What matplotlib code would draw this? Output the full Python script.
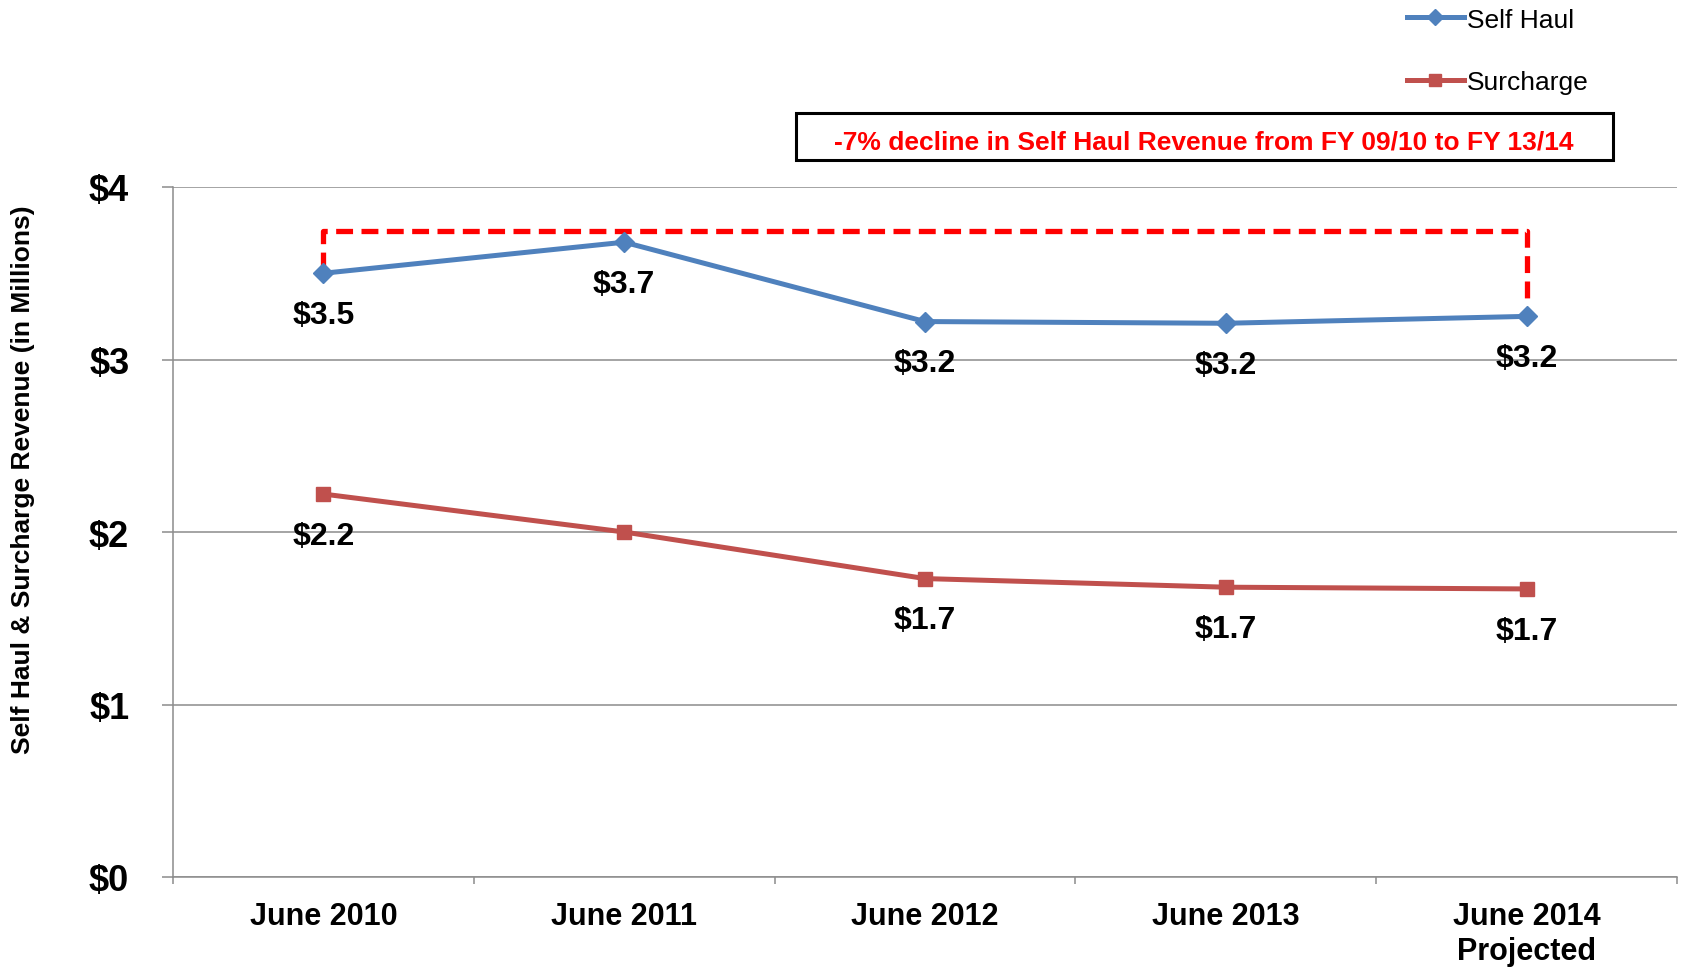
import matplotlib
matplotlib.use("Agg")
import matplotlib.pyplot as plt
from matplotlib.patches import Rectangle

plt.rcParams['font.family'] = ['Liberation Sans', 'DejaVu Sans']

categories = ["June 2010", "June 2011", "June 2012", "June 2013", "June 2014\nProjected"]
self_haul = [3.50, 3.68, 3.22, 3.21, 3.25]
surcharge = [2.22, 2.00, 1.73, 1.68, 1.67]
self_haul_labels = ["$3.5", "$3.7", "$3.2", "$3.2", "$3.2"]
surcharge_labels = ["$2.2", "", "$1.7", "$1.7", "$1.7"]
yticks = [0, 1, 2, 3, 4]
ytick_labels = ["$0", "$1", "$2", "$3", "$4"]
bracket_x = [0, 0, 4, 4]
bracket_y = [3.525, 3.745, 3.745, 3.345]
note = "-7% decline in Self Haul Revenue from FY 09/10 to FY 13/14"
ylabel = "Self Haul & Surcharge Revenue (in Millions)"

BLUE = "#4F81BD"
RED = "#C0504D"
GRID = "#8C8C8C"

W, H = 1684, 970
fig = plt.figure(figsize=(W / 100, H / 100), dpi=100)
ax = fig.add_axes([173 / W, 1 - 878 / H, 1504 / W, 690 / H])

x = list(range(len(categories)))
ax.set_xlim(-0.5, len(categories) - 0.5)
ax.set_ylim(0, 4)

ax.set_yticks(yticks)
ax.set_yticklabels(ytick_labels, fontsize=26, fontweight='bold')
ax.yaxis.grid(True, color=GRID, linewidth=1.1)
ax.set_axisbelow(True)
ax.tick_params(axis='y', length=8, width=1.1, color=GRID, pad=23.5)

ax.set_xticks(x)
ax.set_xticklabels(categories, fontsize=22, fontweight='bold', va='top', linespacing=1.25)
ax.set_xticks([i - 0.5 for i in range(len(categories) + 1)], minor=True)
ax.tick_params(axis='x', which='major', length=0, pad=17)
ax.tick_params(axis='x', which='minor', length=5, width=1.1, color=GRID)

for s in ['top', 'right']:
    ax.spines[s].set_visible(False)
for s in ['left', 'bottom']:
    ax.spines[s].set_color(GRID)
    ax.spines[s].set_linewidth(1.1)

# bracket
ax.plot(bracket_x, bracket_y, color='#FF0000', linewidth=3.8, linestyle=(0, (3.2, 1.6)),
        zorder=2, solid_joinstyle='miter')

l1, = ax.plot(x, self_haul, color=BLUE, linewidth=3.6, marker='D', markersize=10,
              label="Self Haul", zorder=3)
l2, = ax.plot(x, surcharge, color=RED, linewidth=3.6, marker='s', markersize=10,
              label="Surcharge", zorder=3)

for xi, v, t in zip(x, self_haul, self_haul_labels):
    if t:
        ax.annotate(t, (xi, v), xytext=(0, -30), textcoords='offset points',
                    ha='center', va='center', fontsize=23, fontweight='bold', zorder=4)
for xi, v, t in zip(x, surcharge, surcharge_labels):
    if t:
        ax.annotate(t, (xi, v), xytext=(0, -30), textcoords='offset points',
                    ha='center', va='center', fontsize=23, fontweight='bold', zorder=4)

# y label
fig.text(23 / W, 1 - 480 / H, ylabel, rotation=90, ha='center', va='center',
         fontsize=19, fontweight='bold')

# note box
fig.patches.append(Rectangle((796 / W, 1 - 161 / H), 817 / W, 47 / H,
                             transform=fig.transFigure, fill=False,
                             edgecolor='black', linewidth=2.2))
fig.text(1204 / W, 1 - 142 / H, note, ha='center', va='center', color='#FF0000',
         fontsize=19, fontweight='bold')

# legend
fig.legend(handles=[l1, l2], loc='upper left', bbox_to_anchor=(1407 / W, 1 - 8.5 / H),
           frameon=False, fontsize=19, handlelength=2.15, handletextpad=0.12,
           labelspacing=1.45, borderpad=0, borderaxespad=0, markerscale=0.85)

fig.savefig("out.png", dpi=100)
